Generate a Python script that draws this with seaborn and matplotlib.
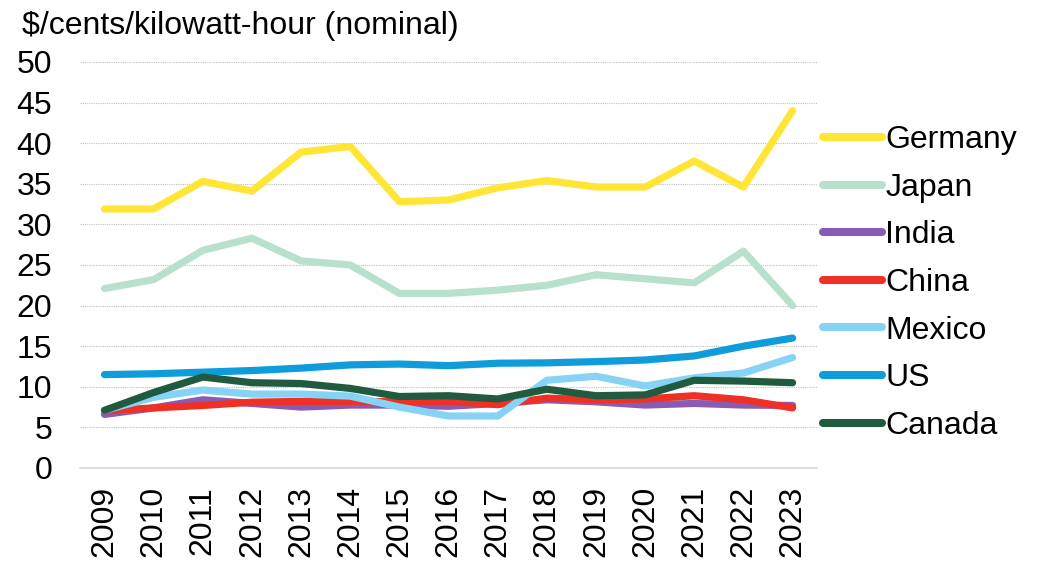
import matplotlib
matplotlib.use("Agg")
import matplotlib.pyplot as plt
import seaborn as sns
import pandas as pd

sns.set_theme(style="white")
plt.rcParams['font.family'] = ['Liberation Sans', 'DejaVu Sans']
plt.rcParams['font.size'] = 23
plt.rcParams['text.color'] = 'black'

years = list(range(2009, 2024))
countries = ['Germany', 'Japan', 'India', 'China', 'Mexico', 'US', 'Canada']

germany = [31.9, 31.9, 35.3, 34.1, 38.9, 39.6, 32.8, 33.0, 34.5, 35.4, 34.6, 34.6, 37.8, 34.6, 44.0]
japan = [22.1, 23.2, 26.8, 28.3, 25.5, 25.0, 21.5, 21.5, 21.9, 22.5, 23.8, 23.3, 22.8, 26.7, 20.0]
india = [6.6, 7.4, 8.4, 7.95, 7.5, 7.75, 7.75, 7.6, 7.95, 8.4, 8.15, 7.75, 7.95, 7.75, 7.7]
china = [7.05, 7.4, 7.7, 8.1, 8.2, 8.2, 8.15, 8.2, 7.8, 8.6, 8.4, 8.5, 8.9, 8.4, 7.4]
mexico = [7.1, 8.7, 9.6, 9.1, 9.1, 8.85, 7.5, 6.4, 6.4, 10.8, 11.3, 10.1, 11.1, 11.7, 13.6]
us = [11.5, 11.6, 11.8, 12.0, 12.3, 12.7, 12.8, 12.6, 12.9, 12.95, 13.1, 13.3, 13.8, 15.0, 16.0]
canada = [7.1, 9.3, 11.2, 10.5, 10.4, 9.8, 8.8, 8.9, 8.5, 9.7, 8.9, 9.0, 10.8, 10.7, 10.5]

series = [germany, japan, india, china, mexico, us, canada]
colors = ['#FFE535', '#B7E1CD', '#8A5BB3', '#EE3124', '#87D3F6', '#0E9DDA', '#215B3F']

rows = []
for name, vals in zip(countries, series):
    for yr, v in zip(years, vals):
        rows.append({'year': yr, 'country': name, 'price': v})
df = pd.DataFrame(rows)

fig = plt.figure(figsize=(10.37, 5.61), dpi=100)
ax = fig.add_axes([0.0771, 0.1658, 0.7109, 0.7237])

sns.lineplot(data=df, x='year', y='price', hue='country', hue_order=countries,
             palette=dict(zip(countries, colors)), linewidth=5.2, sort=False, ax=ax)
for line in ax.get_lines():
    line.set_solid_capstyle('round')
    line.set_solid_joinstyle('round')

ax.set_xlim(2008.5, 2023.5)
ax.set_ylim(0, 50)
ax.set_yticks(range(0, 51, 5))
ax.set_xticks(years)
ax.set_xticklabels([str(y) for y in years], rotation=90)
ax.set_xticks([y - 0.5 for y in years] + [2023.5], minor=True)
ax.tick_params(axis='x', which='major', length=0, pad=13, labelsize=23, colors='black')
ax.tick_params(axis='x', which='minor', length=8, width=1, color='#D9D9D9', direction='out')
ax.tick_params(axis='y', length=0, pad=20, labelsize=23, colors='black')

ax.yaxis.grid(True, linestyle=(0, (1, 1)), color='#BFBFBF', linewidth=0.8)
ax.set_axisbelow(True)
for s in ['top', 'right', 'left']:
    ax.spines[s].set_visible(False)
ax.spines['bottom'].set_color('#D9D9D9')
ax.spines['bottom'].set_linewidth(1.2)
ax.set_xlabel('')
ax.set_ylabel('')

fig.text(0.021, 0.94, '$/cents/kilowatt-hour (nominal)', fontsize=23, ha='left', va='baseline')

leg = ax.legend(loc='center left', bbox_to_anchor=(1.008, 0.4556), frameon=False,
                fontsize=23, handlelength=1.85, handletextpad=0.1, labelspacing=0.55,
                borderaxespad=0, borderpad=0)
for h in leg.get_lines():
    h.set_linewidth(5.8)
    h.set_solid_capstyle('round')

fig.savefig('out.png', dpi=100)
